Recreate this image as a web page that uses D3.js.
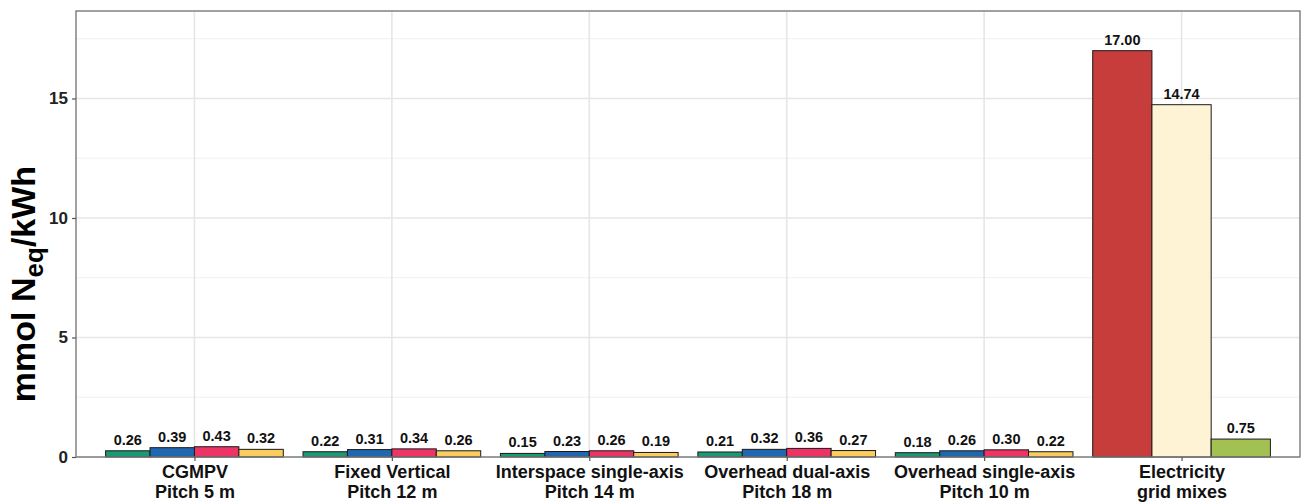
<!DOCTYPE html>
<html>
<head>
<meta charset="utf-8">
<script src="https://cdn.jsdelivr.net/npm/d3@7"></script>
<style>
  html, body { margin: 0; padding: 0; background: #fff; }
  svg { display: block; font-family: "Liberation Sans", Arial, sans-serif; }
</style>
</head>
<body>
<svg id="chart" width="1301" height="503"></svg>
<script>
// Categories along the x axis (two-line labels)
const categories = [
  ["CGMPV", "Pitch 5 m"],
  ["Fixed Vertical", "Pitch 12 m"],
  ["Interspace single-axis", "Pitch 14 m"],
  ["Overhead dual-axis", "Pitch 18 m"],
  ["Overhead single-axis", "Pitch 10 m"],
  ["Electricity", "grid mixes"]
];

// Agrivoltaic configurations: four series per layout
const pvSeries = ["S1", "S2", "S3", "S4"];
const pvColors = ["#1a9a74", "#1f68b1", "#ee3466", "#fbcd5f"];
const pvS1 = [0.26, 0.22, 0.15, 0.21, 0.18];
const pvS2 = [0.39, 0.31, 0.23, 0.32, 0.26];
const pvS3 = [0.43, 0.34, 0.26, 0.36, 0.30];
const pvS4 = [0.32, 0.26, 0.19, 0.27, 0.22];

// Electricity grid mixes: three bars
const gridSeries = ["G1", "G2", "G3"];
const gridColors = ["#c73d3c", "#fef3d5", "#a3c152"];
const gridValues = [17.00, 14.74, 0.75];

const yTicks = [0, 5, 10, 15];
const yMinor = [2.5, 7.5, 12.5, 17.5];
const yMax = 18.66;

// Layout
const panel = { left: 76, right: 1300, top: 11, bottom: 457 };
const svg = d3.select("#chart");

const catKeys = categories.map(c => c.join(" "));
const x = d3.scalePoint().domain(catKeys).range([panel.left, panel.right]).padding(0.6);
const step = x.step();
const groupW = step * 0.9;
const y = d3.scaleLinear().domain([0, yMax]).range([panel.bottom, panel.top]);

// Build bar records
const bars = [];
const pvValues = [pvS1, pvS2, pvS3, pvS4];
catKeys.slice(0, 5).forEach((k, ci) => {
  const inner = d3.scaleBand().domain(pvSeries).range([x(k) - groupW / 2, x(k) + groupW / 2]);
  pvSeries.forEach((s, si) => {
    bars.push({ x0: inner(s), w: inner.bandwidth(), v: pvValues[si][ci], color: pvColors[si] });
  });
});
{
  const k = catKeys[5];
  const inner = d3.scaleBand().domain(gridSeries).range([x(k) - groupW / 2, x(k) + groupW / 2]);
  gridSeries.forEach((s, si) => {
    bars.push({ x0: inner(s), w: inner.bandwidth(), v: gridValues[si], color: gridColors[si] });
  });
}

// Gridlines
const grid = svg.append("g");
grid.selectAll("line.minor").data(yMinor).join("line")
  .attr("x1", panel.left).attr("x2", panel.right)
  .attr("y1", d => y(d)).attr("y2", d => y(d))
  .attr("stroke", "#f0f0f0").attr("stroke-width", 1);
grid.selectAll("line.major").data(yTicks).join("line")
  .attr("x1", panel.left).attr("x2", panel.right)
  .attr("y1", d => y(d)).attr("y2", d => y(d))
  .attr("stroke", "#e6e6e6").attr("stroke-width", 1.6);
grid.selectAll("line.vx").data(catKeys).join("line")
  .attr("x1", d => x(d)).attr("x2", d => x(d))
  .attr("y1", panel.top).attr("y2", panel.bottom)
  .attr("stroke", "#e6e6e6").attr("stroke-width", 1.6);

// Bars
svg.append("g").selectAll("rect").data(bars).join("rect")
  .attr("x", d => d.x0).attr("width", d => d.w)
  .attr("y", d => y(d.v)).attr("height", d => y(0) - y(d.v))
  .attr("fill", d => d.color)
  .attr("stroke", "#1a1a1a").attr("stroke-width", 1);

// Value labels
svg.append("g").selectAll("text").data(bars).join("text")
  .attr("x", d => d.x0 + d.w / 2)
  .attr("y", d => y(d.v) - 6)
  .attr("text-anchor", "middle")
  .attr("font-size", 14.5).attr("font-weight", "bold").attr("fill", "#111")
  .text(d => d.v.toFixed(2));

// Panel border
svg.append("rect")
  .attr("x", panel.left).attr("y", panel.top)
  .attr("width", panel.right - panel.left).attr("height", panel.bottom - panel.top)
  .attr("fill", "none").attr("stroke", "#7a7a7a").attr("stroke-width", 1.4);

// Y axis
const yAxis = svg.append("g").attr("transform", `translate(${panel.left},0)`)
  .call(d3.axisLeft(y).tickValues(yTicks).tickFormat(d3.format("d")).tickSize(4).tickPadding(4));
yAxis.select(".domain").remove();
yAxis.selectAll(".tick line").attr("stroke", "#555").attr("stroke-width", 1.2);
yAxis.selectAll(".tick text").attr("font-size", 17).attr("font-weight", "bold")
  .attr("fill", "#222").attr("font-family", "Liberation Sans, Arial, sans-serif");

// X axis
const xAxis = svg.append("g").attr("transform", `translate(0,${panel.bottom})`)
  .call(d3.axisBottom(x).tickSize(4).tickFormat(""));
xAxis.select(".domain").remove();
xAxis.selectAll(".tick line").attr("stroke", "#555").attr("stroke-width", 1.2);
xAxis.selectAll(".tick").each(function (d, i) {
  const t = d3.select(this).append("text")
    .attr("text-anchor", "middle").attr("fill", "#111")
    .attr("font-size", 18).attr("font-weight", "bold")
    .attr("font-family", "Liberation Sans, Arial, sans-serif");
  categories[i].forEach((line, li) => {
    t.append("tspan").attr("x", 0).attr("y", 21 + li * 19.5).text(line);
  });
});

// Y axis title
const yt = svg.append("text")
  .attr("transform", `translate(35,${(panel.top + panel.bottom) / 2 + 50}) rotate(-90)`)
  .attr("text-anchor", "middle")
  .attr("font-size", 34).attr("font-weight", "bold").attr("fill", "#000");
yt.append("tspan").text("mmol N");
yt.append("tspan").attr("font-size", 26).attr("dy", 8).text("eq");
yt.append("tspan").attr("dy", -8).text("/kWh");
</script>
</body>
</html>
